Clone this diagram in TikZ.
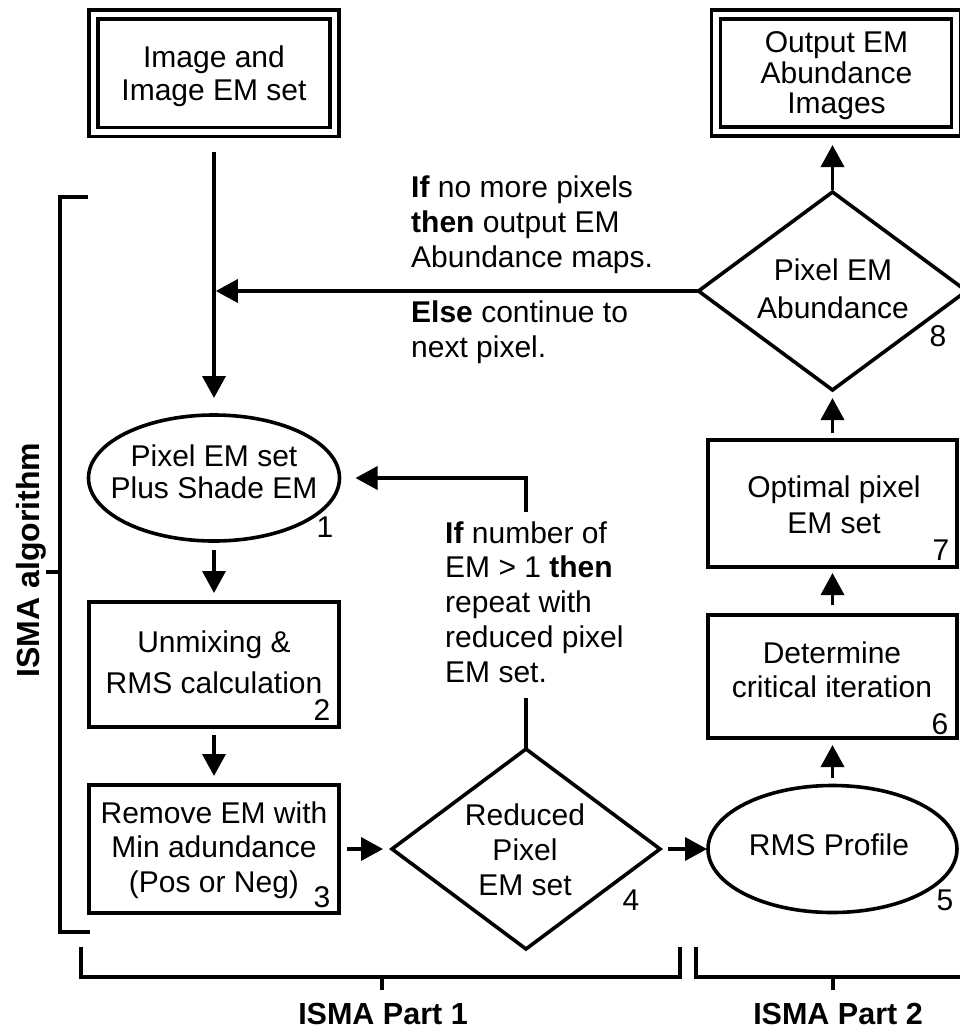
\documentclass[tikz,border=0pt]{standalone}
\usepackage{fontspec}
\setmainfont{Liberation Sans}
\usetikzlibrary{shapes.geometric,arrows.meta}
\newcommand\fsz[1]{\fontsize{30}{#1}\selectfont}
\begin{document}
\begin{tikzpicture}[x=1pt,y=-1pt,
  shp/.style={draw,line width=3.6pt,inner sep=0pt,outer sep=0pt},
  box/.style={shp,rectangle},
  dbox/.style={shp,rectangle,double,double distance=5.5pt},
  ell/.style={shp,ellipse},
  dia/.style={shp,diamond},
  txt/.style={inner sep=0pt,align=center},
  ltxt/.style={inner sep=0pt,align=left,anchor=north west},
  num/.style={inner sep=0pt,font=\fsz{34}},
  arr/.style={line width=3.6pt,-{Triangle[length=22pt,width=23pt]}},
  ln/.style={line width=3.6pt},
  brk/.style={line width=3.6pt,line cap=butt,line join=miter},
  lbl/.style={inner sep=0pt,font=\fontsize{30.5}{36}\selectfont\bfseries},
]
\useasboundingbox (0,0) rectangle (960,1029);

% left column
\node[dbox,minimum width=241pt,minimum height=117.5pt] (b0) at (214,73.25) {};
\node[txt,font=\fsz{33}] (b0t) at (214,76.9) {\strut Image and\\\strut Image EM set};

\node[ell,minimum width=251pt,minimum height=126pt] (e1) at (214,478) {};
\node[txt,font=\fsz{31}] (e1t) at (214,476.3) {\strut Pixel EM set\\\strut Plus Shade EM};
\node[num] (n1) at (325,527) {1};

\node[box,minimum width=250pt,minimum height=125pt] (b2) at (214,664.5) {};
\node[txt,font=\fsz{41}] (b2t) at (214,665.2) {\strut Unmixing \&\\\strut RMS calculation};
\node[num] (n2) at (322,710) {2};

\node[box,minimum width=250pt,minimum height=128pt] (b3) at (214,849) {};
\node[txt,font=\fsz{34.5}] (b3t) at (214,850.6) {\strut Remove EM with\\\strut Min adundance\\\strut (Pos or Neg)};
\node[num] (n3) at (322,897) {3};

% middle
\node[dia,minimum width=268pt,minimum height=200pt] (d4) at (526,849) {};
\node[txt,font=\fsz{35}] (d4t) at (525,853) {\strut Reduced\\\strut Pixel\\\strut EM set};
\node[num] (n4) at (631,900) {4};

% right column
\node[ell,minimum width=249pt,minimum height=127pt] (e5) at (832.5,849) {};
\node[txt,font=\fsz{34.5}] (e5t) at (829,848.1) {\strut RMS Profile};
\node[num] (n5) at (945,900) {5};

\node[box,minimum width=249pt,minimum height=123pt] (b6) at (832.5,676.5) {};
\node[txt,font=\fsz{34}] (b6t) at (832,673.2) {\strut Determine\\\strut critical iteration};
\node[num] (n6) at (940,724) {6};

\node[box,minimum width=249pt,minimum height=127pt] (b7) at (832.5,503.5) {};
\node[txt,font=\fsz{36}] (b7t) at (834,507.8) {\strut Optimal pixel\\\strut EM set};
\node[num] (n7) at (941,550) {7};

\node[dia,minimum width=268pt,minimum height=198pt] (d8) at (832.5,291) {};
\node[txt,font=\fsz{38}] (d8t) at (833,291.4) {\strut Pixel EM\\\strut Abundance};
\node[num] (n8) at (938,336) {8};

\node[dbox,minimum width=240pt,minimum height=117pt] (b9) at (836,73) {};
\node[txt,font=\fsz{30}] (b9t) at (836.5,77) {\strut Output EM\\\strut Abundance\\\strut Images};

% free texts
\node[ltxt,font=\fsz{35}] (tA) at (411,172.5) {\strut\textbf{If} no more pixels\\\strut\textbf{then} output EM\\\strut Abundance maps.};
\node[ltxt,font=\fsz{35}] (tB) at (411,297.5) {\strut\textbf{Else} continue to\\\strut next pixel.};
\node[ltxt,font=\fsz{34.75}] (tC) at (445,518.7) {\strut\textbf{If} number of\\\strut EM > 1 \textbf{then}\\\strut repeat with\\\strut reduced pixel\\\strut EM set.};

% connectors
\draw[arr,shorten <=20pt,shorten >=17pt] (b0.south) -- (e1.north);
\coordinate (j1) at (b0.south |- d8.west);
\draw[arr,shorten >=1.8pt] (d8.west) -- (j1);
\draw[arr,shorten <=9pt,shorten >=9pt] (e1.south) -- (b2.north);
\draw[arr,shorten <=8pt,shorten >=9pt] (b2.south) -- (b3.north);
\draw[arr,shorten <=8pt,shorten >=9pt] (b3.east) -- (d4.west);
\draw[arr,shorten <=8pt,shorten >=1pt] (d4.east) -- (e5.west);
\draw[arr,shorten <=8pt,shorten >=7pt] (e5.north) -- (b6.south);
\draw[arr,shorten <=10pt,shorten >=6pt] (b6.north) -- (b7.south);
\draw[arr,shorten <=7pt,shorten >=8pt] (b7.north) -- (d8.south);
\draw[arr,shorten <=2pt,shorten >=13.5pt] (d8.north) -- (d8.north |- b9.south);
\coordinate (c4) at (d4.north |- e1.east);
\draw[ln,shorten >=5pt] (d4.north) -- (d4.north |- tC.south);
\draw[arr,shorten <=6.7pt,shorten >=16pt] (d4.north |- tC.north) -- (c4) -- (e1.east);

% brackets
\draw[brk] (88,197) -- (60,197) -- (60,932) -- (90,932);
\draw[brk] (60,572) -- (46,572);
\node[inner sep=0pt,font=\fontsize{32}{36}\selectfont\bfseries,rotate=90,anchor=base] (la) at (39,560) {ISMA algorithm};
\draw[brk] (81,947) -- (81,977) -- (680,977) -- (680,947);
\draw[brk] (382,977) -- (382,990);
\node[lbl,anchor=base] (l1) at (383,1024) {ISMA Part 1};
\draw[brk] (696,947) -- (696,977) -- (965,977);
\draw[brk] (833,977) -- (833,990);
\node[lbl,anchor=base] (l2) at (838,1024) {ISMA Part 2};
\end{tikzpicture}
\end{document}
